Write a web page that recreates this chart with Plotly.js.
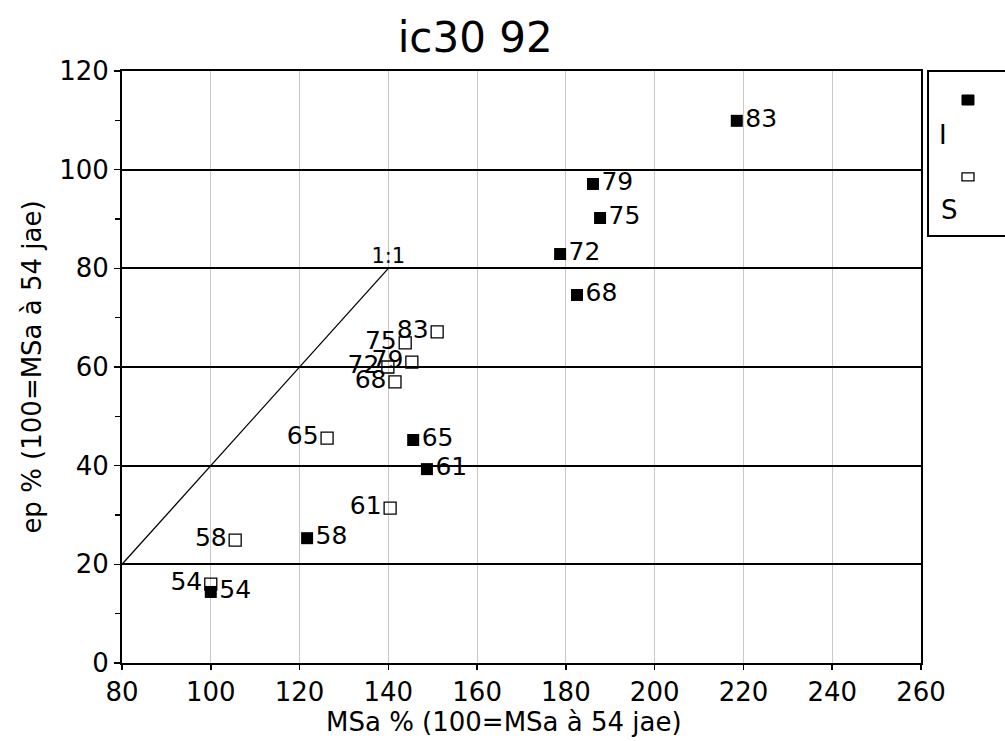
<!DOCTYPE html>
<html>
<head>
<meta charset="utf-8">
<script src="https://cdn.plot.ly/plotly-3.0.1.min.js"></script>
<style>html,body{margin:0;padding:0;background:#fff;}#chart{width:1005px;height:741px;}</style>
</head>
<body>
<div id="chart"></div>
<script>
// Data
var years = ['54', '58', '61', '65', '68', '72', '75', '79', '83'];
var seriesNames = ['I', 'S'];
var filledX = [100, 121.7, 148.7, 145.6, 182.5, 178.7, 187.7, 186.1, 218.5];
var filledY = [14.4, 25.3, 39.3, 45.2, 74.6, 82.9, 90.2, 97.1, 109.9];
var openX = [100, 105.5, 140.4, 126.2, 141.5, 139.9, 143.8, 145.3, 151.0];
var openY = [16.0, 24.9, 31.4, 45.6, 57.0, 60.0, 64.9, 61.0, 67.1];
var refLineX = [80, 140];
var refLineY = [20, 80];
var refLineText = ['', '1:1'];
var xTicks = [80, 100, 120, 140, 160, 180, 200, 220, 240, 260];
var yTicks = [0, 20, 40, 60, 80, 100, 120];
var xTitle = 'MSa % (100=MSa à 54 jae)';
var yTitle = 'ep % (100=MSa à 54 jae)';

var FONT = '"DejaVu Sans", Verdana, sans-serif';

var traces = [
  {
    x: refLineX, y: refLineY, text: refLineText, mode: 'lines+text',
    textposition: 'top center', line: {color: '#000', width: 1.3},
    textfont: {family: FONT, size: 21, color: '#000'},
    hoverinfo: 'skip', showlegend: false, cliponaxis: false
  },
  {
    x: openX, y: openY, text: years, name: seriesNames[1], mode: 'markers+text',
    textposition: 'middle left',
    marker: {symbol: 'square-open', size: 12, color: '#000', line: {width: 1.3, color: '#000'}},
    textfont: {family: FONT, size: 25, color: '#000'},
    showlegend: false, cliponaxis: false
  },
  {
    x: filledX, y: filledY, text: years, name: seriesNames[0], mode: 'markers+text',
    textposition: 'middle right',
    marker: {symbol: 'square', size: 12, color: '#000'},
    textfont: {family: FONT, size: 25, color: '#000'},
    showlegend: false, cliponaxis: false
  }
];

var layout = {
  width: 1005, height: 741,
  margin: {l: 122, r: 84, t: 71, b: 78},
  paper_bgcolor: '#fff', plot_bgcolor: '#fff',
  font: {family: FONT, color: '#000', size: 26},
  title: {text: 'ic30 92', x: 0.442, xref: 'paper', xanchor: 'center', y: 0.95, yanchor: 'middle',
          font: {family: FONT, size: 42, color: '#000'}},
  xaxis: {
    range: [80, 260], tickvals: xTicks, ticktext: xTicks.map(String),
    showline: true, mirror: true, linecolor: '#000', linewidth: 2,
    ticks: 'outside', ticklen: 5, tickwidth: 1.5, tickcolor: '#000',
    showgrid: true, gridcolor: '#c8c8c8', gridwidth: 1,
    zeroline: false, tickfont: {family: FONT, size: 26, color: '#000'}
  },
  yaxis: {
    range: [0, 120], tickvals: yTicks, ticktext: yTicks.map(String),
    showline: true, mirror: true, linecolor: '#000', linewidth: 2,
    ticks: 'outside', ticklen: 6, tickwidth: 1.5, tickcolor: '#000',
    minor: {dtick: 10, tick0: 0, ticks: 'outside', ticklen: 5, tickwidth: 1.5, tickcolor: '#000', showgrid: false},
    showgrid: true, gridcolor: '#000', gridwidth: 2,
    zeroline: false, tickfont: {family: FONT, size: 26, color: '#000'},
    title: {text: yTitle, font: {family: FONT, size: 26, color: '#000'}, standoff: 10}
  },
  shapes: [
    {type: 'rect', xref: 'paper', yref: 'paper', x0: 1.0088, x1: 1.13, y0: 0.7213, y1: 1.0,
     line: {color: '#000', width: 2}, fillcolor: 'rgba(0,0,0,0)'},
    {type: 'rect', xref: 'paper', yref: 'paper', xsizemode: 'pixel', ysizemode: 'pixel',
     xanchor: 1.0588, yanchor: 0.951, x0: -6, x1: 6, y0: -5, y1: 5,
     line: {color: '#000', width: 1}, fillcolor: '#000'},
    {type: 'rect', xref: 'paper', yref: 'paper', xsizemode: 'pixel', ysizemode: 'pixel',
     xanchor: 1.0588, yanchor: 0.821, x0: -6, x1: 6, y0: -4, y1: 4,
     line: {color: '#000', width: 1.3}, fillcolor: '#fff'}
  ],
  annotations: [
    {text: xTitle, xref: 'paper', yref: 'paper', x: 0.478, y: -0.1, showarrow: false,
     xanchor: 'center', yanchor: 'middle', font: {family: FONT, size: 26, color: '#000'}},
    {text: seriesNames[0], xref: 'paper', yref: 'paper', x: 1.0275, y: 0.892, showarrow: false,
     xanchor: 'center', yanchor: 'middle', font: {family: FONT, size: 26, color: '#000'}},
    {text: seriesNames[1], xref: 'paper', yref: 'paper', x: 1.036, y: 0.765, showarrow: false,
     xanchor: 'center', yanchor: 'middle', font: {family: FONT, size: 26, color: '#000'}}
  ],
  showlegend: false
};

Plotly.newPlot('chart', traces, layout, {displayModeBar: false, staticPlot: true});
</script>
</body>
</html>
